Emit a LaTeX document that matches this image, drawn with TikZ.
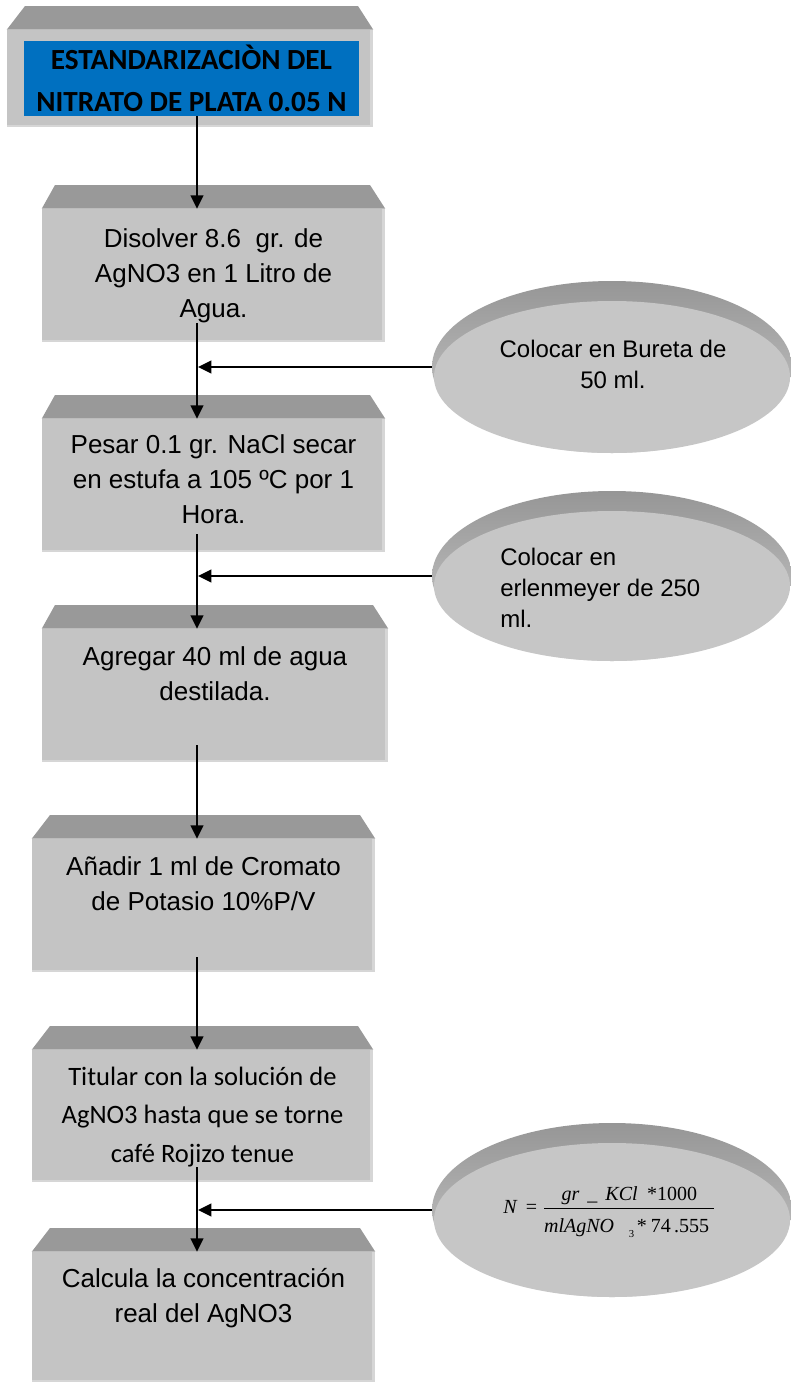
\documentclass[tikz,border=0pt]{standalone}
\usepackage{fontspec}
\setmainfont{Liberation Sans}
\newfontfamily\calfont{Carlito}
\newfontfamily\timesfont{Liberation Serif}
\usetikzlibrary{arrows.meta,shapes.geometric,fit}
\definecolor{bodygray}{RGB}{196,196,196}
\definecolor{bevelgray}{RGB}{153,153,153}
\definecolor{edgelight}{RGB}{214,214,214}
\definecolor{titleblue}{RGB}{0,112,192}
\definecolor{facegray}{RGB}{198,198,198}
\definecolor{disktop}{RGB}{150,150,150}
\definecolor{diskbot}{RGB}{205,205,205}
\tikzset{
  bodybox/.style={rectangle, inner sep=0pt, fill=bodygray, draw=none},
  bevelfill/.style={fill=bevelgray},
  edgefill/.style={fill=edgelight},
  txt/.style={anchor=north, align=center, inner sep=0pt, font=\fontsize{19.5}{26.25}\selectfont},
  caltxt/.style={anchor=north, align=center, inner sep=0pt, font=\calfont\fontsize{19.9}{28.9}\selectfont},
  titlebox/.style={rectangle, fill=titleblue, inner sep=0pt, minimum width=251.25pt, minimum height=56.25pt, align=center, font=\calfont\bfseries\fontsize{21.9}{31.5}\selectfont},
  diskouter/.style={ellipse, inner sep=0pt, minimum width=270pt, top color=disktop, bottom color=diskbot, draw=none},
  elltxt/.style={inner sep=0pt, font=\fontsize{18}{23.25}\selectfont},
  formula/.style={inner sep=0pt, font=\timesfont\fontsize{15}{18}\selectfont},
  arr/.style={line width=1.5pt, -{Triangle[length=10pt,width=9.5pt]}}
}
\newcommand\flowbox[7]{%
  \node[bodybox, fit={(#2,#4) (#3,#5)}] (#1) {};
  \fill[edgefill] ([xshift=-2.25pt]#1.north east) rectangle (#1.south east);
  \fill[edgefill] (#1.south west) rectangle ([yshift=1.5pt]#1.south east);
  \fill[bevelfill] (#1.north west) -- (#6,#4-24) -- (#7,#4-24) -- (#1.north east) -- cycle;
}
\newcommand\diskshape[4]{%
  \node[diskouter, minimum height=#4*1.5pt] (#1) at (#2,#3) {};
  \fill[facegray] ([yshift=-7.5pt]#1.center) ellipse [x radius=178, y radius=#4-10];
}
\begin{document}
\begin{tikzpicture}[x=0.75pt,y=-0.75pt]
\fill[white] (0,0) rectangle (791,1382);
\useasboundingbox (0,0) rectangle (791,1382);
\coordinate (axis) at (197,0);

% boxes
\flowbox{b1}{7}{373}{30}{127}{25}{358}
\node[titlebox] (t1) at (191.5,78.5) {ESTANDARIZACIÒN DEL\\NITRATO DE PLATA 0.05 N};

\flowbox{b2}{42}{385}{209}{342}{55}{370}
\node[txt] (t2) at (213.5,222.5) {\strut Disolver 8.6~ gr. de\\AgNO3 en 1 Litro de\\Agua.};

\flowbox{b3}{42}{385}{419}{552}{55}{370}
\node[txt] (t3) at (213.5,428.5) {\strut Pesar 0.1 gr. NaCl secar\\en estufa a 105 ºC por 1\\Hora.\strut};

\flowbox{b4}{42}{388}{629}{762}{55}{373}
\node[txt] (t4) at (215,640.5) {\strut Agregar 40 ml de agua\\destilada.};

\flowbox{b5}{32}{375}{839}{972}{50}{360}
\node[txt] (t5) at (203.5,850.5) {\strut Añadir 1 ml de Cromato\\de Potasio 10\%P/V};

\flowbox{b6}{32}{373}{1050}{1182}{50}{358}
\node[caltxt] (t6) at (202.5,1058) {\strut Titular con la solución de\\AgNO3 hasta que se torne\\café Rojizo tenue};

\flowbox{b7}{32}{375}{1252}{1382}{50}{360}
\node[txt] (t7) at (203.5,1262.5) {\strut Calcula la concentración\\real del AgNO3};

% disks
\diskshape{e1}{612}{367}{86}
\node[elltxt, anchor=north, align=center] (et1) at (613,335.3) {\strut Colocar en Bureta de\\50 ml.};

\diskshape{e2}{612}{576}{85}
\node[elltxt, anchor=north west, align=left] (et2) at (500,543.3) {\strut Colocar en\\erlenmeyer de 250\\ml.};

\diskshape{e3}{612}{1210}{87}
\node[formula, anchor=base west] (et3) at (503,1213) {\itshape N\upshape\hspace{7pt}=\hspace{4pt}$\displaystyle\frac{\mbox{\itshape gr\hspace{6pt}\textunderscore\hspace{6pt}KCl\hspace{7pt}\upshape *1000}}{\mbox{\itshape mlAgNO\hspace{11pt}\raisebox{-4pt}{\upshape\fontsize{8}{9}\selectfont 3}\hspace{2pt}\upshape *\hspace{3pt}74\hspace{2.5pt}.555\hspace{4pt}\rule{0pt}{16.5pt}}}$};

% vertical connectors
\coordinate (s4) at (197,745);
\coordinate (s5) at (197,957);
\draw[arr] (axis |- t1.south) -- (axis |- b2.north);
\draw[arr] (axis |- t2.south) -- (axis |- b3.north);
\draw[arr] (axis |- t3.south) -- (axis |- b4.north);
\draw[arr] (s4) -- (axis |- b5.north);
\draw[arr] (s5) -- (axis |- b6.north);
\draw[arr] (axis |- t6.south) -- (axis |- b7.north);

% horizontal connectors
\draw[arr, shorten >=0.75pt] (e1.west) -- (axis |- e1.west);
\draw[arr, shorten >=0.75pt] (e2.west) -- (axis |- e2.west);
\draw[arr, shorten >=0.75pt] (e3.west) -- (axis |- e3.west);
\end{tikzpicture}
\end{document}
